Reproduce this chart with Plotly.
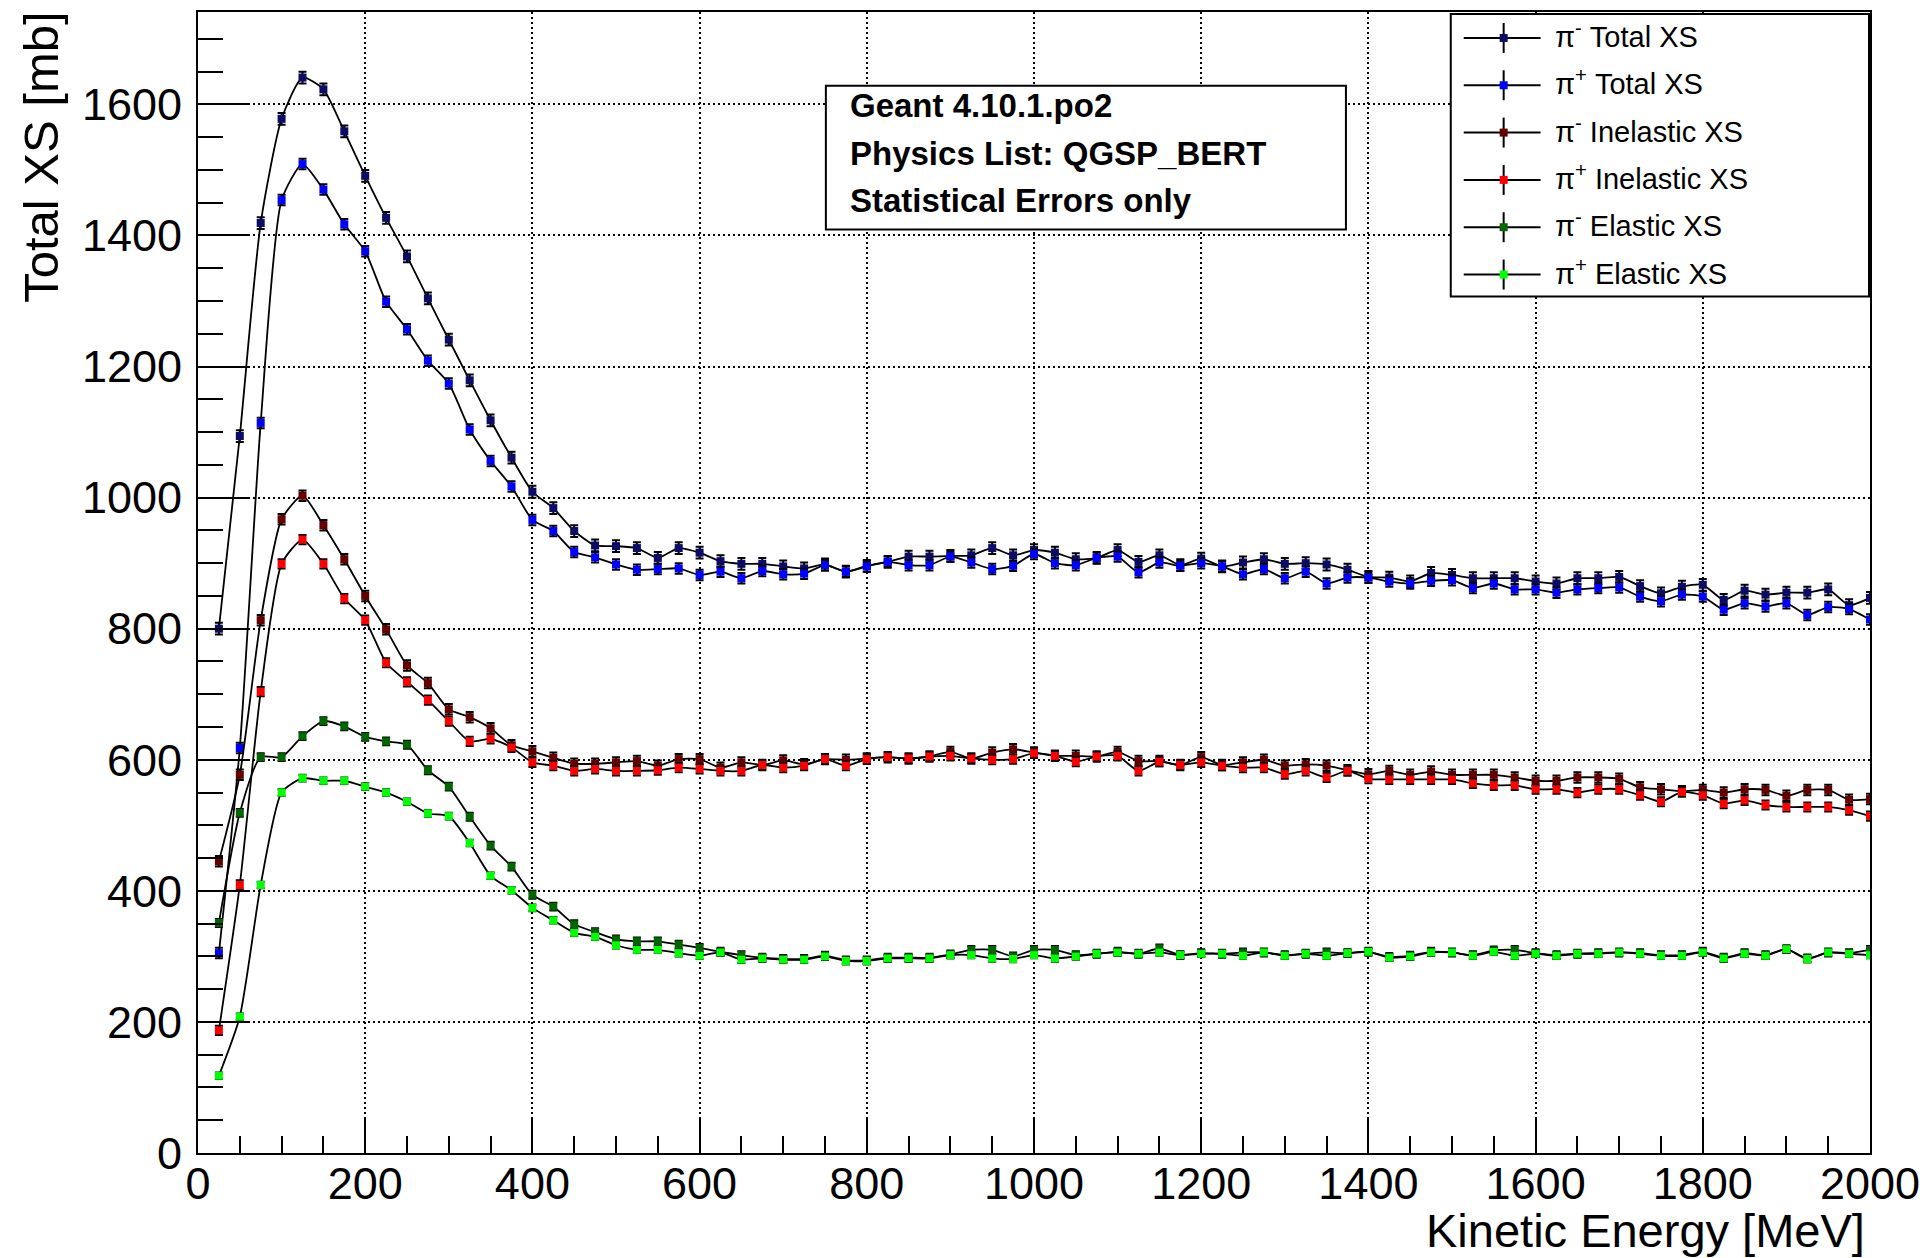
import plotly.graph_objects as go

# Kinetic energy bin centres [MeV]
energy = list(range(25, 2001, 25))

# Cross sections [mb]
pim_total = [
    800, 1094, 1419, 1578, 1641, 1623, 1559, 1491, 1427, 1368,
    1304, 1241, 1179, 1118, 1061, 1009, 984, 949, 927, 926,
    923, 908, 923, 916, 903, 899, 899, 895, 892, 898,
    887, 896, 902, 910, 910, 911, 912, 923, 912, 920,
    916, 906, 908, 920, 902, 912, 897, 907, 895, 901,
    906, 899, 900, 898, 890, 879, 878, 872, 885, 882,
    877, 877, 877, 872, 869, 877, 877, 879, 865, 854,
    864, 867, 844, 858, 852, 855, 855, 860, 836, 847,
]
pip_total = [
    305, 618, 1114, 1454, 1509, 1470, 1417, 1376, 1299, 1257,
    1209, 1174, 1104, 1056, 1017, 966, 949, 917, 909, 898,
    890, 891, 892, 882, 887, 877, 888, 883, 884, 897,
    887, 895, 902, 897, 897, 910, 901, 891, 896, 914,
    900, 897, 908, 910, 886, 901, 896, 900, 895, 883,
    891, 877, 887, 869, 878, 878, 872, 869, 873, 874,
    862, 869, 860, 860, 855, 860, 862, 863, 849, 842,
    852, 849, 829, 839, 834, 839, 821, 833, 830, 814,
]
pim_inelastic = [
    445, 577, 813, 967, 1003, 958, 906, 850, 799, 744,
    717, 677, 665, 648, 622, 613, 603, 594, 594, 596,
    598, 591, 601, 601, 588, 596, 592, 599, 593, 601,
    600, 602, 604, 602, 605, 612, 602, 611, 616, 611,
    606, 606, 605, 612, 598, 598, 592, 604, 592, 596,
    600, 591, 593, 591, 584, 578, 583, 577, 582, 577,
    577, 577, 573, 568, 568, 573, 573, 571, 558, 555,
    552, 554, 550, 555, 554, 545, 554, 554, 539, 540,
]
pip_inelastic = [
    187, 409, 704, 899, 936, 899, 846, 813, 748, 719,
    691, 659, 628, 632, 619, 596, 591, 583, 586, 583,
    583, 584, 588, 586, 583, 583, 592, 588, 591, 601,
    591, 601, 604, 602, 605, 606, 602, 600, 601, 610,
    606, 597, 605, 606, 583, 597, 592, 596, 591, 588,
    588, 578, 583, 573, 583, 571, 570, 570, 570, 570,
    564, 561, 561, 555, 555, 550, 555, 555, 546, 536,
    551, 546, 533, 538, 531, 528, 528, 528, 523, 514,
]
pim_elastic = [
    351, 519, 604, 604, 636, 659, 651, 635, 628, 623,
    584, 559, 513, 469, 437, 394, 376, 349, 337, 326,
    323, 323, 318, 313, 307, 302, 298, 296, 296, 301,
    294, 294, 298, 298, 298, 303, 310, 310, 300, 310,
    310, 302, 304, 307, 304, 312, 302, 305, 304, 306,
    306, 302, 304, 306, 305, 307, 299, 301, 307, 306,
    302, 309, 310, 305, 302, 304, 305, 306, 305, 302,
    302, 307, 298, 305, 302, 311, 297, 306, 305, 310,
]
pip_elastic = [
    118, 208, 409, 550, 572, 568, 568, 559, 550, 536,
    518, 514, 473, 423, 401, 374, 355, 336, 330, 317,
    310, 310, 305, 301, 306, 295, 297, 295, 295, 300,
    293, 293, 297, 297, 297, 302, 302, 297, 296, 302,
    297, 300, 304, 306, 304, 306, 302, 304, 304, 301,
    306, 301, 304, 301, 305, 307, 298, 300, 306, 306,
    301, 307, 301, 304, 301, 304, 304, 306, 304, 301,
    301, 306, 297, 304, 301, 311, 296, 306, 304, 302,
]

# Statistical error per series [mb]
errors = [9, 8, 8, 7, 6, 5]

labels = [
    "π<sup>-</sup> Total XS",
    "π<sup>+</sup> Total XS",
    "π<sup>-</sup> Inelastic XS",
    "π<sup>+</sup> Inelastic XS",
    "π<sup>-</sup> Elastic XS",
    "π<sup>+</sup> Elastic XS",
]
series = [pim_total, pip_total, pim_inelastic, pip_inelastic, pim_elastic, pip_elastic]
colors = ["#0c0c66", "#0000ff", "#660000", "#ff0000", "#006600", "#00ff00"]

for s in series:
    assert len(s) == len(energy)

# Canvas / frame geometry in pixels
W, H = 1930, 1258
L, R, T, B = 198, 1873, 10, 1153
FONT = "Liberation Sans, Arial, Helvetica, sans-serif"


def px(xp):
    return (xp - L) / (R - L)


def py(yp):
    return (B - yp) / (B - T)


fig = go.Figure()
for name, ys, col, err in zip(labels, series, colors, errors):
    fig.add_trace(go.Scatter(
        x=energy, y=ys, name=name, mode="lines+markers",
        line=dict(color="black", width=1.8, shape="spline", smoothing=0.6),
        marker=dict(symbol="square", size=8, color=col, line=dict(width=0)),
        error_y=dict(type="constant", value=err, color="black", thickness=2, width=4),
        showlegend=False,
    ))

grid_dash = "2px,3px"
axis_common = dict(
    showline=True, linecolor="black", linewidth=2, mirror=True,
    ticks="inside", tickcolor="black", tickwidth=2,
    showgrid=True, gridcolor="black", gridwidth=1.6, griddash=grid_dash,
    zeroline=False,
    tickfont=dict(family=FONT, size=45, color="black"),
)

fig.update_xaxes(
    range=[0, 2000], tick0=0, dtick=200, ticklen=34, ticklabelstandoff=-10,
    minor=dict(ticks="inside", dtick=50, ticklen=17, tickwidth=2, tickcolor="black", showgrid=False),
    **axis_common,
)
fig.update_yaxes(
    range=[0, 1741], tick0=0, dtick=200, ticklen=50, ticklabelstandoff=5,
    minor=dict(ticks="inside", dtick=50, ticklen=25, tickwidth=2, tickcolor="black", showgrid=False),
    **axis_common,
)

shapes = []
annotations = []

# Axis titles (ROOT style: aligned to the far end of each axis)
annotations.append(dict(
    text="Kinetic Energy [MeV]", xref="paper", yref="paper",
    x=px(1870), y=py(1231), xanchor="right", yanchor="middle", showarrow=False,
    font=dict(family=FONT, size=47, color="black"),
))
annotations.append(dict(
    text="Total XS [mb]", xref="paper", yref="paper", textangle=-90,
    x=px(40), y=py(T - 2), xanchor="center", yanchor="top", showarrow=False,
    font=dict(family=FONT, size=49, color="black"),
))

# Info box
shapes.append(dict(type="rect", xref="paper", yref="paper",
                   x0=px(827), x1=px(1348), y0=py(228), y1=py(84),
                   line=dict(color="black", width=2), fillcolor="white", layer="above"))
info_lines = ["Geant 4.10.1.po2", "Physics List: QGSP_BERT", "Statistical Errors only"]
for i, txt in enumerate(info_lines):
    annotations.append(dict(
        text="<b>" + txt + "</b>", xref="paper", yref="paper",
        x=px(849), y=py(104 + 47.5 * i), xanchor="left", yanchor="middle", showarrow=False,
        font=dict(family=FONT, size=33, color="black"),
    ))

# Legend box with ROOT-style entries (line, error bar, marker)
shapes.append(dict(type="rect", xref="paper", yref="paper",
                   x0=px(1453), x1=px(1872), y0=py(295), y1=py(12),
                   line=dict(color="black", width=2), fillcolor="white", layer="above"))
for i, (name, col) in enumerate(zip(labels, colors)):
    yc = 36 + 47.4 * i
    xc = 1506
    shapes.append(dict(type="line", xref="paper", yref="paper",
                       x0=px(1466), x1=px(1543), y0=py(yc), y1=py(yc),
                       line=dict(color="black", width=2), layer="above"))
    shapes.append(dict(type="line", xref="paper", yref="paper",
                       x0=px(xc), x1=px(xc), y0=py(yc - 15), y1=py(yc + 15),
                       line=dict(color="black", width=2), layer="above"))
    shapes.append(dict(type="rect", xref="paper", yref="paper",
                       x0=px(xc - 4), x1=px(xc + 4), y0=py(yc + 4), y1=py(yc - 4),
                       line=dict(width=0), fillcolor=col, layer="above"))
    annotations.append(dict(
        text=name, xref="paper", yref="paper",
        x=px(1555), y=py(yc - 3), xanchor="left", yanchor="middle", showarrow=False,
        font=dict(family=FONT, size=29, color="black"),
    ))

fig.update_layout(
    width=W, height=H,
    margin=dict(l=L, r=W - R, t=T, b=H - B),
    paper_bgcolor="white", plot_bgcolor="white",
    shapes=shapes, annotations=annotations,
    showlegend=False,
)

fig.write_html("out.html")
